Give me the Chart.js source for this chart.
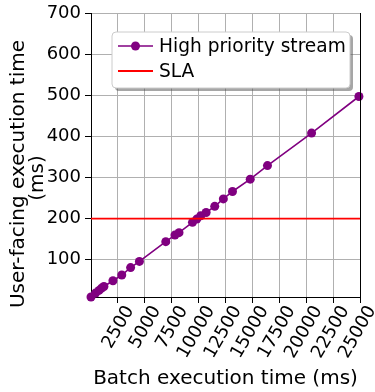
<!DOCTYPE html>
<html>
<head>
<meta charset="utf-8">
<script src="https://cdn.jsdelivr.net/npm/chart.js@4/dist/chart.umd.min.js"></script>
<style>
html,body{margin:0;padding:0;background:#fff;}
#wrap{width:375px;height:392px;position:relative;}
</style>
</head>
<body>
<div id="wrap"><canvas id="c" width="375" height="392"></canvas></div>
<script>
// ---- data ----
const batchMs = [0, 420, 750, 980, 1200, 2040, 2860, 3680, 4500, 6950, 7800, 8180, 9430, 9830, 10200, 10700, 11500, 12300, 13150, 14800, 16400, 20500, 24900];
const userMs  = [9.5, 19, 25.5, 31, 35, 49, 63, 81, 96, 144, 160, 166, 191, 199, 207, 215, 230, 248, 266, 296, 329, 408, 497];
const slaValue = 200;
const xTicks = [2500, 5000, 7500, 10000, 12500, 15000, 17500, 20000, 22500, 25000];
const yTicks = [100, 200, 300, 400, 500, 600, 700];
const seriesLabels = ['High priority stream', 'SLA'];
const xTitle = 'Batch execution time (ms)';
const yTitle = ['User-facing execution time', '(ms)'];
const xRange = [0, 25000];
const yRange = [9.5, 700];

const FONT = "'DejaVu Sans', sans-serif";

const purplePts = batchMs.map((x, i) => ({x: x, y: userMs[i]}));
const slaPts = [{x: xRange[0], y: slaValue}, {x: xRange[1], y: slaValue}];

const framePlugin = {
  id: 'frame',
  afterDatasetsDraw(chart) {
    const ctx = chart.ctx, a = chart.chartArea;
    ctx.save();
    ctx.strokeStyle = '#000';
    ctx.lineWidth = 1;
    ctx.beginPath();
    ctx.moveTo(Math.round(a.right) + 0.5, a.top);
    ctx.lineTo(Math.round(a.right) + 0.5, a.bottom);
    ctx.stroke();
    ctx.restore();
  },
  afterDraw(chart) {
    const ctx = chart.ctx;
    ctx.save();
    // y axis title (two lines, rotated)
    ctx.fillStyle = '#000';
    ctx.font = '20px ' + FONT;
    ctx.textAlign = 'center';
    ctx.textBaseline = 'middle';
    ctx.translate(19, 174);
    ctx.rotate(-Math.PI / 2);
    ctx.fillText(yTitle[0], 0, 0);
    ctx.fillText(yTitle[1], -4, 19);
    ctx.restore();

    // legend box
    const ds = chart.data.datasets;
    const bx = 112, by = 32, bw = 238, bh = 56, r = 4;
    ctx.save();
    const rr = (x, y, w, h) => {
      ctx.beginPath();
      ctx.moveTo(x + r, y);
      ctx.lineTo(x + w - r, y);
      ctx.quadraticCurveTo(x + w, y, x + w, y + r);
      ctx.lineTo(x + w, y + h - r);
      ctx.quadraticCurveTo(x + w, y + h, x + w - r, y + h);
      ctx.lineTo(x + r, y + h);
      ctx.quadraticCurveTo(x, y + h, x, y + h - r);
      ctx.lineTo(x, y + r);
      ctx.quadraticCurveTo(x, y, x + r, y);
      ctx.closePath();
    };
    rr(bx + 3, by + 3, bw, bh);
    ctx.fillStyle = 'rgba(77,77,77,0.5)';
    ctx.fill();
    rr(bx, by, bw, bh);
    ctx.fillStyle = 'rgba(255,255,255,1)';
    ctx.fill();
    ctx.strokeStyle = '#cccccc';
    ctx.lineWidth = 1;
    ctx.stroke();
    const entries = [ds[1], ds[0]];
    const rows = [46, 71];
    entries.forEach((d, i) => {
      const y = rows[i];
      ctx.strokeStyle = d.borderColor;
      ctx.lineWidth = d.borderWidth;
      ctx.beginPath();
      ctx.moveTo(118, y);
      ctx.lineTo(153, y);
      ctx.stroke();
      if (d.pointRadius > 0) {
        ctx.fillStyle = d.pointBackgroundColor;
        ctx.beginPath();
        ctx.arc(135.5, y, d.pointRadius, 0, Math.PI * 2);
        ctx.fill();
      }
      ctx.fillStyle = '#000';
      ctx.font = '18.6px ' + FONT;
      ctx.textAlign = 'left';
      ctx.textBaseline = 'middle';
      ctx.fillText(d.label, 159, y + 1);
    });
    ctx.restore();
  }
};

new Chart(document.getElementById('c'), {
  type: 'line',
  data: {
    datasets: [
      {
        label: seriesLabels[1],
        data: slaPts,
        borderColor: '#ff0000',
        backgroundColor: '#ff0000',
        borderWidth: 1.8,
        pointRadius: 0,
        order: 0
      },
      {
        label: seriesLabels[0],
        data: purplePts,
        borderColor: '#800080',
        backgroundColor: '#800080',
        pointBackgroundColor: '#800080',
        pointBorderColor: '#800080',
        borderWidth: 1.6,
        pointRadius: 4.5,
        pointBorderWidth: 0,
        clip: false,
        order: 1
      }
    ]
  },
  options: {
    responsive: false,
    animation: false,
    devicePixelRatio: 1,
    layout: {padding: {top: 13, right: 15, left: 0, bottom: 0}},
    plugins: {legend: {display: false}, tooltip: {enabled: false}},
    scales: {
      x: {
        type: 'linear',
        min: xRange[0],
        max: xRange[1],
        afterBuildTicks(s) { s.ticks = xTicks.map(v => ({value: v})); },
        afterFit(s) { s.height = 95; s.paddingLeft = 0; s.paddingRight = 0; },
        ticks: {
          autoSkip: false,
          minRotation: 60,
          maxRotation: 60,
          labelOffset: 12,
          padding: -1,
          color: '#000',
          font: {family: FONT, size: 18},
          callback: v => String(v)
        },
        grid: {color: '#b0b0b0', lineWidth: 1, tickColor: '#000', tickLength: 6, drawTicks: true},
        border: {color: '#000', width: 1},
        title: {display: true, text: xTitle, color: '#000', font: {family: FONT, size: 20}, padding: {top: 0, bottom: 1}}
      },
      y: {
        type: 'linear',
        min: yRange[0],
        max: yRange[1],
        afterBuildTicks(s) { s.ticks = yTicks.map(v => ({value: v})); },
        afterFit(s) { s.width = 91; s.paddingTop = 0; s.paddingBottom = 0; },
        ticks: {
          padding: 4,
          color: '#000',
          font: {family: FONT, size: 18},
          callback: v => String(v)
        },
        grid: {color: '#b0b0b0', lineWidth: 1, tickColor: '#000', tickLength: 6, drawTicks: true},
        border: {color: '#000', width: 1}
      }
    }
  },
  plugins: [framePlugin]
});
</script>
</body>
</html>
